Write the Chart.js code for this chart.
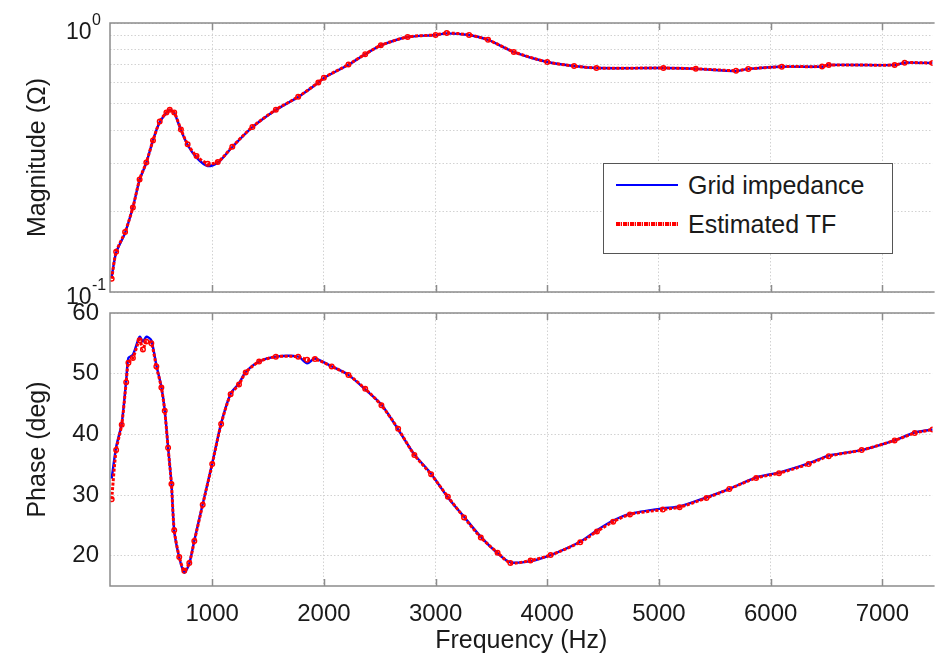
<!DOCTYPE html>
<html>
<head>
<meta charset="utf-8">
<script src="https://cdn.jsdelivr.net/npm/chart.js@4.4.1/dist/chart.umd.min.js"></script>
<style>
  body { margin: 0; background: #fff; }
  #wrap { position: relative; width: 938px; height: 656px; overflow: hidden; }
  #wrap canvas { position: absolute; left: 0; top: 0; }
  #legend {
    position: absolute; left: 603px; top: 163px; width: 288px; height: 89px;
    border: 1.5px solid #555; background: #fff; z-index: 5;
    font: 25px "Liberation Sans", Arial, sans-serif; color: #1a1a1a;
  }
  .row { position: absolute; left: 0; height: 30px; display: flex; align-items: center; }
  .swatch { width: 62px; margin-left: 12px; margin-right: 10px; }
  .blue { height: 2px; background: #0000ff; }
  .red { height: 4px; background: repeating-linear-gradient(90deg, #ff0000 0 4px, #ffb0b0 4px 5px, #ff0000 5px 6px, transparent 6px 7px); }
</style>
</head>
<body>
<div id="wrap">
  <canvas id="mag" width="938" height="656"></canvas>
  <canvas id="phase" width="938" height="656"></canvas>
  <div id="legend">
    <div class="row" style="top:6px"><span class="swatch blue"></span>Grid impedance</div>
    <div class="row" style="top:45px"><span class="swatch red"></span>Estimated TF</div>
  </div>
</div>
<script>
// tick values
const X_TICKS = [1000, 2000, 3000, 4000, 5000, 6000, 7000];
const MAG_TICKS = [0.1, 0.2, 0.3, 0.4, 0.5, 0.6, 0.7, 0.8, 0.9, 1];
const PHASE_TICKS = [20, 30, 40, 50, 60];

// magnitude (ohm) vs frequency (Hz)
const magFreq = [100, 140, 220, 290, 350, 410, 470, 530, 590, 620, 660, 720, 780, 860, 960, 1050, 1180, 1360, 1570, 1770, 1950, 2000, 2220, 2370, 2510, 2750, 3000, 3100, 3300, 3470, 3700, 4000, 4240, 4440, 5040, 5330, 5690, 5800, 6100, 6460, 6520, 7110, 7200, 7450];
const magGrid = [0.114, 0.140, 0.166, 0.207, 0.261, 0.302, 0.367, 0.428, 0.463, 0.475, 0.463, 0.400, 0.352, 0.316, 0.294, 0.302, 0.346, 0.410, 0.475, 0.531, 0.600, 0.625, 0.700, 0.765, 0.825, 0.887, 0.902, 0.915, 0.902, 0.865, 0.780, 0.716, 0.692, 0.680, 0.680, 0.675, 0.663, 0.675, 0.688, 0.688, 0.698, 0.698, 0.712, 0.710];
const magEst = [0.112, 0.141, 0.167, 0.206, 0.262, 0.303, 0.366, 0.430, 0.465, 0.476, 0.465, 0.402, 0.354, 0.320, 0.300, 0.304, 0.347, 0.411, 0.476, 0.532, 0.601, 0.626, 0.701, 0.766, 0.826, 0.888, 0.903, 0.918, 0.903, 0.866, 0.781, 0.716, 0.692, 0.680, 0.680, 0.676, 0.665, 0.675, 0.688, 0.689, 0.698, 0.698, 0.712, 0.710];

// phase (deg) vs frequency (Hz)
const phaseFreq = [100, 140, 190, 230, 250, 290, 350, 380, 410, 455, 500, 545, 575, 605, 635, 660, 705, 750, 795, 840, 915, 1000, 1080, 1165, 1240, 1300, 1420, 1570, 1770, 1850, 1920, 2070, 2220, 2370, 2515, 2665, 2810, 2960, 3110, 3255, 3405, 3555, 3670, 3850, 4030, 4295, 4445, 4590, 4740, 5035, 5185, 5425, 5630, 5870, 6075, 6340, 6520, 6815, 7110, 7290, 7450];
const phaseGrid = [32.7, 37.9, 41.8, 48.9, 52.6, 53.1, 56.1, 55.3, 56.1, 55.5, 51.4, 47.8, 44.0, 37.9, 31.9, 24.1, 19.7, 17.2, 18.7, 22.5, 28.5, 35.2, 41.8, 46.7, 48.4, 50.3, 52.0, 52.8, 52.8, 51.7, 52.5, 51.2, 49.8, 47.4, 44.9, 40.8, 36.7, 33.5, 29.6, 26.4, 23.1, 20.4, 18.9, 19.1, 20.1, 22.3, 24.2, 25.8, 26.9, 27.8, 28.1, 29.6, 31.0, 32.9, 33.7, 35.2, 36.5, 37.4, 39.0, 40.3, 40.8];
const phaseEst = [29.3, 37.4, 41.6, 48.6, 51.8, 52.6, 55.5, 54.0, 55.3, 55.0, 51.2, 47.7, 43.9, 37.8, 31.8, 24.2, 19.8, 17.5, 18.8, 22.4, 28.4, 35.1, 41.7, 46.6, 48.2, 50.2, 52.0, 52.8, 52.8, 52.3, 52.4, 51.2, 49.8, 47.5, 44.8, 40.9, 36.6, 33.4, 29.7, 26.3, 23.0, 20.5, 18.8, 19.2, 20.1, 22.2, 24.0, 25.6, 26.8, 27.6, 28.0, 29.5, 31.0, 32.8, 33.6, 35.1, 36.4, 37.4, 39.0, 40.2, 40.8];

const FONT = '"Liberation Sans", Arial, Helvetica, sans-serif';
Chart.defaults.font.family = FONT;
Chart.defaults.color = '#1a1a1a';

const pair = (xs, ys) => xs.map((x, i) => ({ x: x, y: ys[i] }));

function makeDatasets(freq, grid, est) {
  return [
    {
      label: 'Estimated TF', data: pair(freq, est), order: 1,
      borderColor: '#ff0000', borderWidth: 3, borderDash: [3, 1.6],
      pointRadius: 2.3, pointBorderWidth: 1.4, pointBorderColor: '#ff0000',
      pointBackgroundColor: 'rgba(255,255,255,0)', tension: 0.25
    },
    {
      label: 'Grid impedance', data: pair(freq, grid), order: 2,
      borderColor: '#0000ff', borderWidth: 2.4, pointRadius: 0, tension: 0.25
    }
  ];
}

// axis box with small inward ticks, like the original figure
const frame = {
  id: 'frame',
  afterDraw(chart) {
    const { ctx, chartArea: a, scales: { x } } = chart;
    ctx.save();
    ctx.strokeStyle = '#8c8c8c';
    ctx.lineWidth = 1.5;
    ctx.beginPath();
    ctx.moveTo(a.right + 2, a.top); ctx.lineTo(a.left, a.top);
    ctx.lineTo(a.left, a.bottom); ctx.lineTo(a.right + 2, a.bottom);
    X_TICKS.forEach(v => {
      const px = Math.round(x.getPixelForValue(v)) + 0.5;
      ctx.moveTo(px, a.top); ctx.lineTo(px, a.top + 7);
      ctx.moveTo(px, a.bottom); ctx.lineTo(px, a.bottom - 7);
    });
    ctx.stroke();
    ctx.restore();
  }
};

// 10^0 and 10^-1 labels with raised exponents
const decadeLabels = {
  id: 'decadeLabels',
  afterDraw(chart) {
    const { ctx, scales: { y } } = chart;
    ctx.save();
    ctx.fillStyle = '#1a1a1a';
    ctx.textAlign = 'left';
    ctx.textBaseline = 'alphabetic';
    [[1, '0', 16], [0.1, '-1', 12]].forEach(([v, exp, dy]) => {
      const py = y.getPixelForValue(v);
      ctx.font = '23px ' + FONT;
      ctx.fillText('10', 66, py + dy);
      ctx.font = '16px ' + FONT;
      ctx.fillText(exp, 92, py + dy - 14);
    });
    ctx.restore();
  }
};

const gridStyle = { color: '#d2d2d2', lineWidth: 1, drawTicks: false };
const borderStyle = { display: false, dash: [1.5, 2] };

new Chart(document.getElementById('mag'), {
  type: 'line',
  data: { datasets: makeDatasets(magFreq, magGrid, magEst) },
  options: {
    responsive: false, animation: false, devicePixelRatio: 1,
    layout: { padding: { top: 23, right: 0, bottom: 364, left: 0 } },
    plugins: { legend: { display: false }, tooltip: { enabled: false } },
    scales: {
      x: {
        type: 'linear', min: 85, max: 7450,
        afterBuildTicks: s => { s.ticks = X_TICKS.map(v => ({ value: v })); },
        afterFit: s => { s.height = 0; },
        ticks: { display: false },
        grid: gridStyle, border: borderStyle
      },
      y: {
        type: 'logarithmic', min: 0.1, max: 1,
        afterBuildTicks: s => { s.ticks = MAG_TICKS.map(v => ({ value: v })); },
        afterFit: s => { s.width = 110; },
        ticks: { display: false },
        grid: gridStyle, border: borderStyle,
        title: { display: true, text: 'Magnitude (Ω)', font: { size: 25 }, padding: { top: 23 } }
      }
    }
  },
  plugins: [frame, decadeLabels]
});

new Chart(document.getElementById('phase'), {
  type: 'line',
  data: { datasets: makeDatasets(phaseFreq, phaseGrid, phaseEst) },
  options: {
    responsive: false, animation: false, devicePixelRatio: 1,
    layout: { padding: { top: 313, right: 0, bottom: 0, left: 0 } },
    plugins: { legend: { display: false }, tooltip: { enabled: false } },
    scales: {
      x: {
        type: 'linear', min: 85, max: 7450,
        afterBuildTicks: s => { s.ticks = X_TICKS.map(v => ({ value: v })); },
        afterFit: s => { s.height = 70; },
        ticks: { font: { size: 24 }, padding: 14, maxRotation: 0, callback: v => String(v) },
        grid: gridStyle, border: borderStyle,
        title: { display: true, text: 'Frequency (Hz)', font: { size: 25 }, padding: { bottom: 0 } }
      },
      y: {
        min: 15, max: 60,
        afterBuildTicks: s => { s.ticks = PHASE_TICKS.map(v => ({ value: v })); },
        afterFit: s => { s.width = 110; },
        ticks: { font: { size: 24 }, padding: 11, callback: v => String(v) },
        grid: gridStyle, border: borderStyle,
        title: { display: true, text: 'Phase (deg)', font: { size: 25 }, padding: { top: 23 } }
      }
    }
  },
  plugins: [frame]
});
</script>
</body>
</html>
